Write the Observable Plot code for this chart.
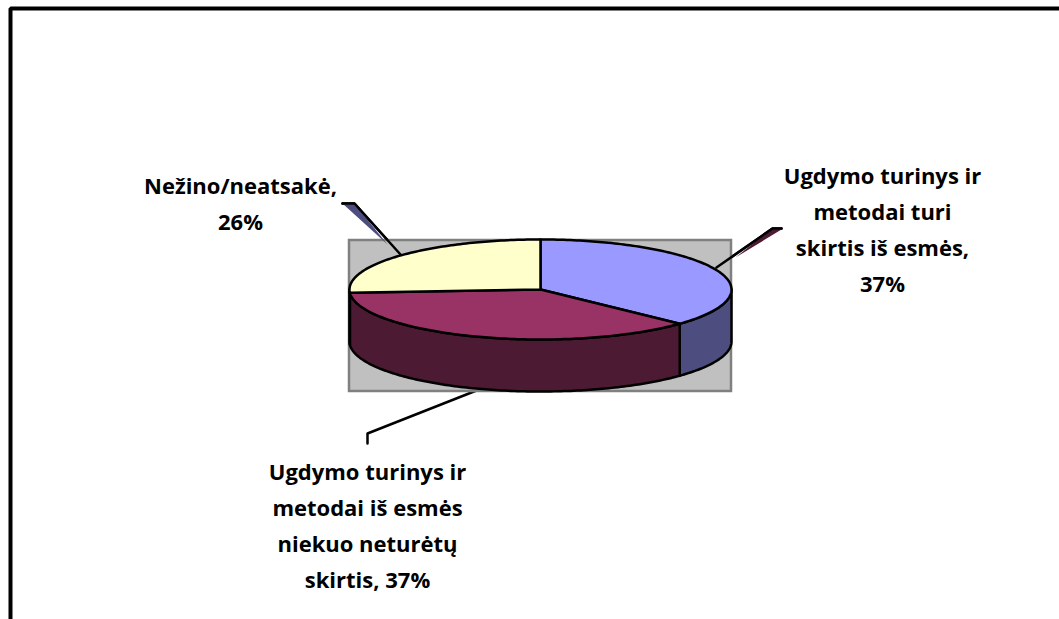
<!DOCTYPE html>
<html><head><meta charset="utf-8">
<script src="https://cdn.jsdelivr.net/npm/d3@7"></script>
<script src="https://cdn.jsdelivr.net/npm/@observablehq/plot@0.6"></script>
<style>html,body{margin:0;padding:0;background:#fff;overflow:hidden}svg{display:block}</style>
</head><body><div id="chart"></div>
<script>
const categories = ["Ugdymo turinys ir metodai turi skirtis iš esmės", "Ugdymo turinys ir metodai iš esmės niekuo neturėtų skirtis", "Nežino/neatsakė"];
const shares = [37, 37, 26];
const labelLines = [
  ["Ugdymo turinys ir", "metodai turi", "skirtis iš esmės,", "37%"],
  ["Ugdymo turinys ir", "metodai iš esmės", "niekuo neturėtų", "skirtis, 37%"],
  ["Nežino/neatsakė,", "26%"]
];
const topColors = ["#9999ff", "#993366", "#ffffcc"];
const sideColors = ["#4d4d80", "#4d1a33", "#80806a"];

// layout of the pseudo-3D pie
const W = 1059, H = 619, cx = 540, cy = 289, rx = 191, ry = 50, depth = 52;
const total = d3.sum(shares);
const ang = d3.cumsum([0, ...shares]).map(v => v / total * 2 * Math.PI);
const ex = a => cx + rx * Math.sin(a);
const ey = (a, dz = 0) => cy - ry * Math.cos(a) + dz;
const step = Math.PI / 180;
const arc = (a0, a1, dz = 0) => {
  const n = Math.max(2, Math.ceil(Math.abs(a1 - a0) / step));
  return d3.range(n + 1).map(i => { const a = a0 + (a1 - a0) * i / n; return [ex(a), ey(a, dz)]; });
};
const poly = (pts, k) => pts.map(([x, y], i) => ({x, y, k, i}));

const topPolys = shares.flatMap((_, k) => poly([[cx, cy], ...arc(ang[k], ang[k + 1]), [cx, cy]], k));
// visible side walls: clip to the front half (90°..270°)
const Q1 = Math.PI / 2, Q3 = 3 * Math.PI / 2;
const sidePolys = shares.flatMap((_, k) => {
  const a0 = Math.max(ang[k], Q1), a1 = Math.min(ang[k + 1], Q3);
  if (a1 <= a0) return [];
  return poly([...arc(a0, a1), ...arc(a1, a0, depth), [ex(a0), ey(a0)]], k);
});

const leaders = [
  {k: 0, pts: [[716, 267], [772, 228], [781, 228]]},
  {k: 1, pts: [[476, 390], [367, 433], [367, 443]]},
  {k: 2, pts: [[400, 254], [354, 203], [342, 203]]}
];
const leaderRows = leaders.flatMap(l => l.pts.map(([x, y], i) => ({x, y, k: l.k, i})));
// thin coloured wedges beside the leader lines
const wedgeRows = [
  {k: 0, c: "#4d1a33", pts: [[770, 229], [781, 229], [735, 257]]},
  {k: 2, c: "#4d4d80", pts: [[342, 203], [354, 203], [387, 244]]}
].flatMap(w => w.pts.map(([x, y], i) => ({x, y, k: w.k, c: w.c, i})));

const labelAnchors = [[882, 176, 36], [367, 472, 36], [240, 186, 36]];
const labelRows = labelLines.flatMap((lines, k) => lines.map((t, j) => ({
  t, x: labelAnchors[k][0], y: labelAnchors[k][1] + j * labelAnchors[k][2]
})));

const chart = Plot.plot({
  width: W, height: H, margin: 0,
  x: {domain: [0, W], range: [0, W], axis: null},
  y: {domain: [0, H], range: [0, H], axis: null},
  style: {background: "#fff"},
  marks: [
    // outer frame: left and top edges only are visible in the reference crop
    Plot.line([{x: 10, y: H}, {x: 10, y: 8}, {x: W, y: 8}], {x: "x", y: "y", stroke: "#000", strokeWidth: 4, strokeLinejoin: "miter"}),
    // leaders behind the plot area
    Plot.line(leaderRows, {x: "x", y: "y", z: "k", stroke: "#000", strokeWidth: 2.5}),
    // grey plot area
    Plot.rect([{x1: 349, x2: 731, y1: 240, y2: 391}], {x1: "x1", x2: "x2", y1: "y1", y2: "y2", fill: "#c0c0c0", stroke: "#808080", strokeWidth: 2.5}),
    Plot.line(wedgeRows, {x: "x", y: "y", z: "k", stroke: "none", fill: "c"}),
    Plot.line(leaderRows.filter(d => d.k !== 1), {x: "x", y: "y", z: "k", stroke: "#000", strokeWidth: 2.5}),
    // side walls
    Plot.line(sidePolys, {x: "x", y: "y", z: "k", fill: d => sideColors[d.k], stroke: "#000", strokeWidth: 2.5, strokeLinejoin: "round"}),
    // top slices
    Plot.line(topPolys, {x: "x", y: "y", z: "k", fill: d => topColors[d.k], stroke: "#000", strokeWidth: 2.5, strokeLinejoin: "round"}),
    // labels
    Plot.text(labelRows, {x: "x", y: "y", text: "t", fontFamily: "Open Sans", fontWeight: 700, fontSize: 22, fill: "#000", textAnchor: "middle", lineAnchor: "middle"})
  ]
});
document.getElementById("chart").append(chart);
</script></body></html>
